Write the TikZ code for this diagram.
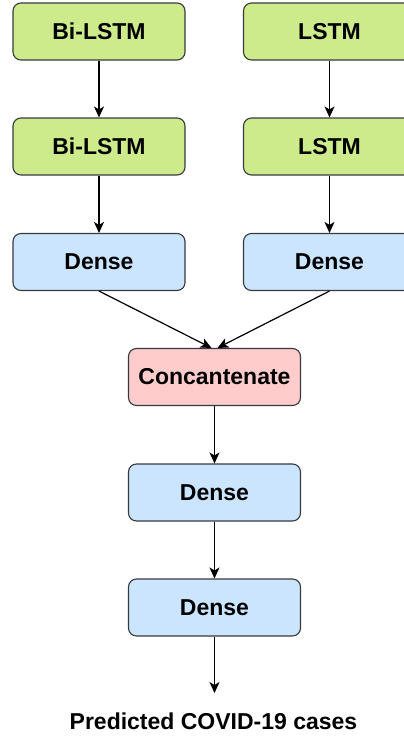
\documentclass[tikz,border=0pt]{standalone}
\usepackage{fontspec}
\setmainfont{Liberation Sans}
\usetikzlibrary{arrows.meta}
\definecolor{gfill}{HTML}{CDEB8B}
\definecolor{bfill}{HTML}{CCE5FF}
\definecolor{rfill}{HTML}{FFCCCC}
\definecolor{bstroke}{HTML}{36393D}
\tikzset{
  box/.style={draw=bstroke, line width=1.1pt, rounded corners=8pt, minimum width=172pt, minimum height=57pt, inner sep=0pt, font=\fontsize{23}{27}\selectfont\bfseries},
  gbox/.style={box, fill=gfill},
  bbox/.style={box, fill=bfill},
  rbox/.style={box, fill=rfill},
  arr/.style={line width=1.2pt, -{Stealth[length=11pt,width=10pt,inset=3pt]}}
}
\begin{document}
\begin{tikzpicture}[x=1pt,y=-1pt]
\useasboundingbox (0,0) rectangle (404,736);
\node[gbox] (bl1) at (99,31.5) {Bi-LSTM};
\node[gbox] (l1) at (329.5,31.5) {LSTM};
\node[gbox] (bl2) at (99,146.5) {Bi-LSTM};
\node[gbox] (l2) at (329.5,146.5) {LSTM};
\node[bbox] (d1) at (99,262) {Dense};
\node[bbox] (d2) at (329.5,262) {Dense};
\node[rbox] (c) at (214.5,377) {Concantenate};
\node[bbox] (d3) at (214.5,492.5) {Dense};
\node[bbox] (d4) at (214.5,607.5) {Dense};
\node[font=\fontsize{23}{27}\selectfont\bfseries] (out) at (213.5,721) {Predicted COVID-19 cases};
\coordinate (oend) at (214.5,693);
\draw[arr] (bl1) -- (bl2);
\draw[arr] (l1) -- (l2);
\draw[arr] (bl2) -- (d1);
\draw[arr] (l2) -- (d2);
\draw[arr] (d1.south) -- ([xshift=-3pt]c.north);
\draw[arr] (d2.south) -- ([xshift=3pt]c.north);
\draw[arr] (c) -- (d3);
\draw[arr] (d3) -- (d4);
\draw[arr] (d4.south) -- (oend);
\end{tikzpicture}
\end{document}
